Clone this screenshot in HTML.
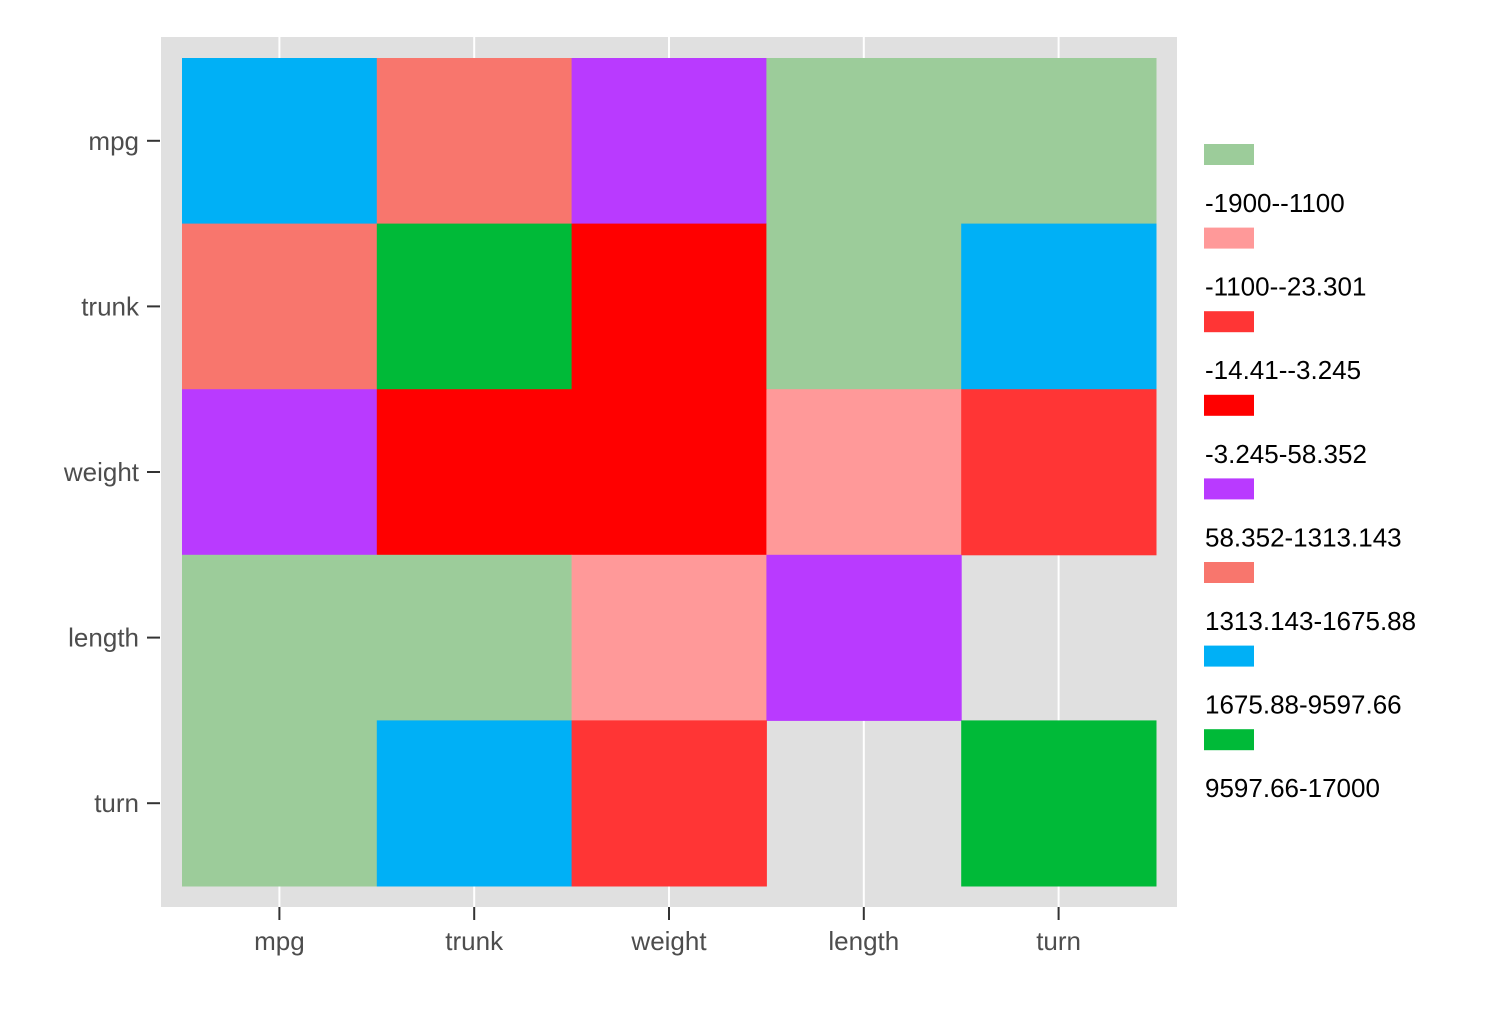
<!DOCTYPE html>
<html><head><meta charset="utf-8"><style>
body{margin:0;background:#fff;}
svg text{font-family:"Liberation Sans",sans-serif;}
</style></head><body>
<svg width="1506" height="1004" xmlns="http://www.w3.org/2000/svg" id="chart">
<rect x="161" y="37" width="1016" height="870" fill="#E0E0E0"/>
<g id="grid"></g><g id="tiles"></g><g id="axes"></g><g id="legend"></g>
</svg>
<script>
const xCats = ["mpg","trunk","weight","length","turn"];
const yCats = ["mpg","trunk","weight","length","turn"];
const legendLabels = ["-1900--1100","-1100--23.301","-14.41--3.245","-3.245-58.352","58.352-1313.143","1313.143-1675.88","1675.88-9597.66","9597.66-17000"];
const legendColors = ["#9CCC9A","#FF9999","#FF3535","#FF0000","#B93AFF","#F8766D","#00B0F6","#00BA38"];
const cellRow0 = [6,5,4,0,0];
const cellRow1 = [5,7,3,0,6];
const cellRow2 = [4,3,3,1,2];
const cellRow3 = [0,0,1,4,null];
const cellRow4 = [0,6,2,null,7];
const cells = [cellRow0,cellRow1,cellRow2,cellRow3,cellRow4];

const NS="http://www.w3.org/2000/svg";
const x0=182,x1=1156,y0=58,y1=886;
const cw=(x1-x0)/xCats.length, ch=(y1-y0)/yCats.length;
const xScale=i=>x0+i*cw, yScale=j=>y0+j*ch;
function mk(tag,attrs,parent){const e=document.createElementNS(NS,tag);for(const k in attrs)e.setAttribute(k,attrs[k]);parent.appendChild(e);return e;}
const grid=document.getElementById('grid'),tiles=document.getElementById('tiles'),axes=document.getElementById('axes'),legend=document.getElementById('legend');
xCats.forEach((c,i)=>{const cx=xScale(i)+cw/2;
 const l=mk('line',{x1:cx,x2:cx,y1:37,y2:907,stroke:'#fff','stroke-width':2},grid);
 
 
 const t=mk('line',{x1:cx,x2:cx,y1:907,y2:920,stroke:'#333','stroke-width':2},axes);
 
 
 const tx=mk('text',{x:cx,y:950,'text-anchor':'middle','font-size':26,fill:'#4D4D4D'},axes);tx.textContent=c;
 
 
});
yCats.forEach((c,j)=>{const cy=yScale(j)+ch/2;
 const t=mk('line',{x1:147,x2:160,y1:cy,y2:cy,stroke:'#333','stroke-width':2},axes);
 
 
 const tx=mk('text',{x:139,y:cy+9,'text-anchor':'end','font-size':26,fill:'#4D4D4D'},axes);tx.textContent=c;
 
 
});
cells.forEach((row,j)=>row.forEach((v,i)=>{if(v===null)return;
 const r=mk('rect',{x:xScale(i),y:yScale(j),width:cw+0.5,height:ch+0.5,fill:legendColors[v]},tiles);
 
 
}));
legendLabels.forEach((lab,k)=>{const ky=144+k*83.6;
 const r=mk('rect',{x:1204,y:ky,width:50,height:21,fill:legendColors[k]},legend);
 
 
 const t=mk('text',{x:1205,y:ky+68,'font-size':26,fill:'#000'},legend);t.textContent=lab;
 
 
});
</script>
</body></html>
